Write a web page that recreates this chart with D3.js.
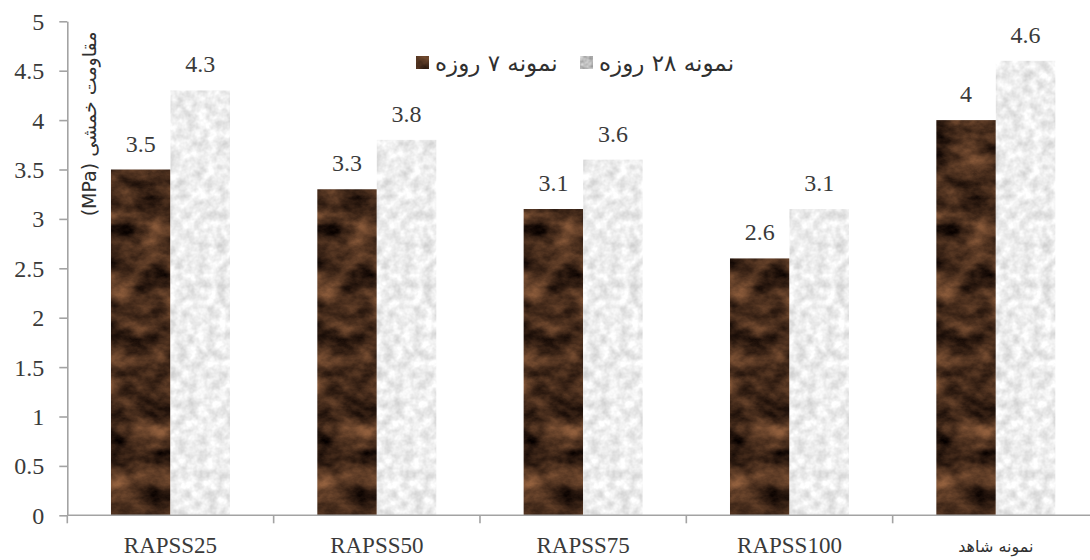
<!DOCTYPE html>
<html lang="fa">
<head>
  <meta charset="UTF-8">
  <title>Flexural strength</title>
  <script src="https://d3js.org/d3.v7.min.js"></script>
  <style type="text/css">
    body { margin: 0; background: #fff; }
    .axis path, .axis line { stroke: #a3a3a3; stroke-width: 1.6; }
    .num { font-family: "Liberation Serif", serif; font-weight: normal; fill: #3a3a3a; }
    .fa { font-family: "DejaVu Sans", sans-serif; fill: #303030; }
  </style>
</head>
<body>
<script>
  // data
  var categories = ["RAPSS25", "RAPSS50", "RAPSS75", "RAPSS100", "نمونه شاهد"];
  var day7 = [3.5, 3.3, 3.1, 2.6, 4];
  var day28 = [4.3, 3.8, 3.6, 3.1, 4.6];
  var seriesNames = ["نمونه ۷ روزه", "نمونه ۲۸ روزه"];
  var yTicks = [0, 0.5, 1, 1.5, 2, 2.5, 3, 3.5, 4, 4.5, 5];
  var yTitle = "مقاومت خمشی (MPa)";

  var width = 1090, height = 560;

  var svg = d3.select("body").append("svg")
    .attr("width", width)
    .attr("height", height);

  // marble-ish textures (noise mapped to a colour ramp, clipped to the shape)
  var defs = svg.append("defs");

  function marble(id, freq, octaves, seed, matrix) {
    var f = defs.append("filter").attr("id", id)
      .attr("x", 0).attr("y", 0).attr("width", 1).attr("height", 1)
      .attr("color-interpolation-filters", "sRGB");
    f.append("feTurbulence").attr("type", "fractalNoise")
      .attr("baseFrequency", freq).attr("numOctaves", octaves).attr("seed", seed).attr("result", "n");
    f.append("feColorMatrix").attr("in", "n").attr("type", "matrix")
      .attr("values", matrix).attr("result", "c");
    f.append("feComposite").attr("in", "c").attr("in2", "SourceGraphic").attr("operator", "in");
  }
  marble("marbleDark", "0.03 0.045", 5, 7,
    "0.8 0 0 0 -0.12  0.55 0 0 0 -0.1  0.36 0 0 0 -0.07  0 0 0 0 1");
  marble("marbleLight", "0.1", 3, 2,
    "0.3 0 0 0 0.78  0.3 0 0 0 0.78  0.3 0 0 0 0.78  0 0 0 0 1");
  // the small legend swatch of the light texture reads greyer
  marble("marbleLightKey", "0.2", 2, 4,
    "0.5 0 0 0 0.5  0.5 0 0 0 0.5  0.5 0 0 0 0.5  0 0 0 0 1");

  var fills = ["url(#marbleDark)", "url(#marbleLight)"];
  var keyFills = ["url(#marbleDark)", "url(#marbleLightKey)"];

  // scales
  var x = d3.scaleBand()
    .domain(categories)
    .range([67.3, 1099])
    .paddingInner(0).paddingOuter(0);

  var xSub = d3.scaleBand()
    .domain([0, 1])
    .range([0, x.bandwidth()])
    .paddingInner(0).paddingOuter(0.734);

  var y = d3.scaleLinear()
    .domain([0, 5])
    .range([515.3, 21.3]);

  // y axis
  var yAxis = svg.append("g")
    .attr("class", "axis")
    .attr("transform", "translate(67.3,0)")
    .call(d3.axisLeft(y).tickValues(yTicks).tickSize(8).tickSizeOuter(0).tickPadding(15)
      .tickFormat(function(d) { return String(d); }));
  yAxis.selectAll("text")
    .attr("class", "num")
    .attr("font-size", "24px")
    .attr("dy", "0.33em");

  // bars
  var groups = svg.selectAll(".grp")
    .data(categories)
    .enter().append("g")
    .attr("class", "grp")
    .attr("transform", function(d) { return "translate(" + x(d) + ",0)"; });

  [day7, day28].forEach(function(series, s) {
    groups.append("rect")
      .attr("x", xSub(s))
      .attr("y", function(d, i) { return y(series[i]); })
      .attr("width", xSub.bandwidth())
      .attr("height", function(d, i) { return y(0) - y(series[i]); })
      .attr("fill", "#000")
      .attr("filter", fills[s]);

    groups.append("text")
      .attr("class", "num")
      .attr("font-size", "24px")
      .attr("text-anchor", "middle")
      .attr("x", xSub(s) + xSub.bandwidth() / 2)
      .attr("y", function(d, i) { return y(series[i]) - 18; })
      .text(function(d, i) { return String(series[i]); });
  });

  // x axis: line + boundary ticks
  var xAxis = svg.append("g")
    .attr("class", "axis")
    .attr("transform", "translate(0," + y(0) + ")");
  xAxis.append("path")
    .attr("d", "M" + x.range()[0] + ",0H" + x.range()[1]);
  xAxis.selectAll(".bt")
    .data(categories)
    .enter().append("line")
    .attr("class", "bt")
    .attr("x1", function(d) { return x(d); })
    .attr("x2", function(d) { return x(d); })
    .attr("y1", 0).attr("y2", 8);

  var isFa = function(d) { return /[\u0600-\u06FF]/.test(d); };
  xAxis.selectAll(".lbl")
    .data(categories)
    .enter().append("text")
    .attr("class", function(d) { return isFa(d) ? "fa" : "num"; })
    .attr("font-size", function(d) { return isFa(d) ? "16px" : "23px"; })
    .attr("text-anchor", "middle")
    .attr("x", function(d) { return x(d) + x.bandwidth() / 2; })
    .attr("y", function(d) { return isFa(d) ? 37 : 38; })
    .text(function(d) { return d; });

  // y title
  svg.append("text")
    .attr("class", "fa")
    .attr("font-size", "19px")
    .attr("direction", "rtl")
    .attr("text-anchor", "middle")
    .attr("transform", "translate(96,124) rotate(-90)")
    .text(yTitle);

  // legend
  var legendX = [416, 580];
  var legend = svg.selectAll(".leg")
    .data(seriesNames)
    .enter().append("g")
    .attr("class", "leg")
    .attr("transform", function(d, i) { return "translate(" + legendX[i] + ",56)"; });
  legend.append("rect")
    .attr("width", 13).attr("height", 13)
    .attr("fill", "#000")
    .attr("filter", function(d, i) { return keyFills[i]; });
  legend.append("text")
    .attr("class", "fa")
    .attr("font-size", "23px")
    .attr("x", 19)
    .attr("y", 15)
    .text(function(d) { return d; });
</script>
</body>
</html>
